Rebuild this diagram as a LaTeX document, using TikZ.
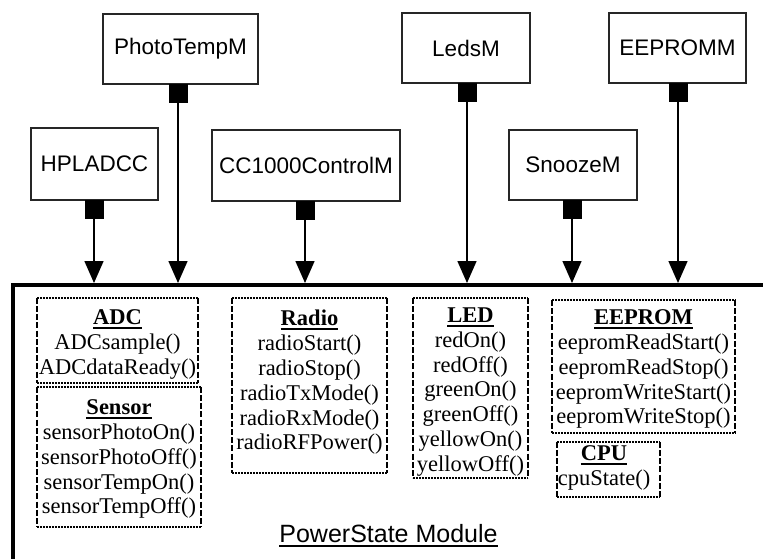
\documentclass[tikz,border=0pt]{standalone}
\usepackage{fontspec}
\setmainfont{Liberation Serif}
\setsansfont{Liberation Sans}
\usetikzlibrary{arrows.meta}

% underline with a fixed rule under the text
\newcommand{\ulin}[2][-4.6pt]{\setbox0\hbox{#2}\rlap{\rule[#1]{\wd0}{2pt}}\box0}

% interface group: invisible frame node, dotted top/bottom, dashed sides
\newcommand{\ifacebox}[4]{%
  \node[frame, minimum width=#3, minimum height=#4] (#1) at #2 {};
  \draw[hedge] (#1.north west) -- (#1.north east) (#1.south west) -- (#1.south east);
  \draw[vedge] (#1.north west) -- (#1.south west) (#1.north east) -- (#1.south east);
}

\begin{document}
\begin{tikzpicture}[x=1pt, y=-1pt,
  modbox/.style={draw=black!85, line width=2pt, fill=white, inner sep=0,
    font=\sffamily\fontsize{22.5}{26}\selectfont},
  portsq/.style={fill=black, draw=none, inner sep=0, minimum width=19pt,
    minimum height=19pt, anchor=north},
  wire/.style={line width=1.5pt, -{Triangle[width=19pt,length=22pt]}},
  frame/.style={draw=none, inner sep=0},
  hedge/.style={line width=1.7pt, dash pattern=on 1.8pt off 1.2pt},
  vedge/.style={line width=1.6pt, dash pattern=on 6pt off 2.2pt},
  calls/.style={align=center, anchor=north, inner sep=0,
    font=\fontsize{22.5}{24.8}\selectfont},
]
\useasboundingbox (0,0) rectangle (763,559);

% PowerState module outline (open to the right and bottom)
\coordinate (modtop) at (0,283);
\draw[line width=4pt] (12.5,559) -- (12.5,285) -- (763,285);

% user modules
\node[modbox, minimum width=155pt, minimum height=70pt] (photo)  at (180.5,49)  {PhotoTempM};
\node[modbox, minimum width=127pt, minimum height=72pt] (hpl)    at (94.5,164)  {HPLADCC};
\node[modbox, minimum width=188pt, minimum height=71pt] (cc)     at (306,165.5) {CC1000ControlM};
\node[modbox, minimum width=128pt, minimum height=70pt] (leds)   at (466,48)    {LedsM};
\node[modbox, minimum width=137pt, minimum height=70pt] (eep)    at (677.5,48)  {EEPROMM};
\node[modbox, minimum width=128pt, minimum height=70pt] (snooze) at (573,165)   {SnoozeM};

% interface ports
\node[portsq] (photoP)  at (178,84)  {};
\node[portsq] (hplP)    at (94,200)  {};
\node[portsq] (ccP)     at (305,201) {};
\node[portsq] (ledsP)   at (467,83)  {};
\node[portsq] (eepP)    at (678,83)  {};
\node[portsq] (snoozeP) at (572,200) {};

% wiring into the module
\foreach \p in {photoP,hplP,ccP,ledsP,eepP,snoozeP}
  \draw[wire] (\p.south) -- (\p.south |- modtop);

% interface groups
\ifacebox{adc}{(117.5,340.5)}{161pt}{85pt}
\ifacebox{sensor}{(119,457)}{164pt}{140pt}
\ifacebox{radio}{(309.5,385.5)}{155pt}{175pt}
\ifacebox{led}{(470.5,388)}{115pt}{180pt}
\ifacebox{eeprom}{(643.5,366.5)}{183pt}{133pt}
\ifacebox{cpu}{(608.5,469.5)}{103pt}{55pt}

\node[calls] (adcT) at (117.5,309.5)
  {\ulin{\textbf{ADC}}\\ADCsample()\\ADCdataReady()};
\node[calls] (sensorT) at (119,399.5)
  {\ulin{\textbf{Sensor}}\\sensorPhotoOn()\\sensorPhotoOff()\\sensorTempOn()\\sensorTempOff()};
\node[calls] (radioT) at (309.5,310)
  {\ulin{\textbf{Radio}}\\radioStart()\\radioStop()\\radioTxMode()\\radioRxMode()\\radioRFPower()};
\node[calls] (ledT) at (470.5,307.5)
  {\ulin{\textbf{LED}}\\redOn()\\redOff()\\greenOn()\\greenOff()\\yellowOn()\\yellowOff()};
\node[calls] (eepromT) at (643.5,309.5)
  {\ulin{\textbf{EEPROM}}\\eepromReadStart()\\eepromReadStop()\\eepromWriteStart()\\eepromWriteStop()};
\node[calls] (cpuT) at (604,445.5)
  {\ulin{\textbf{CPU}}\\cpuState()};

% module name
\node[anchor=base, inner sep=0, font=\sffamily\fontsize{25}{30}\selectfont] (modname)
  at (388.5,542) {\ulin[-4.5pt]{PowerState Module}};
\end{tikzpicture}
\end{document}
